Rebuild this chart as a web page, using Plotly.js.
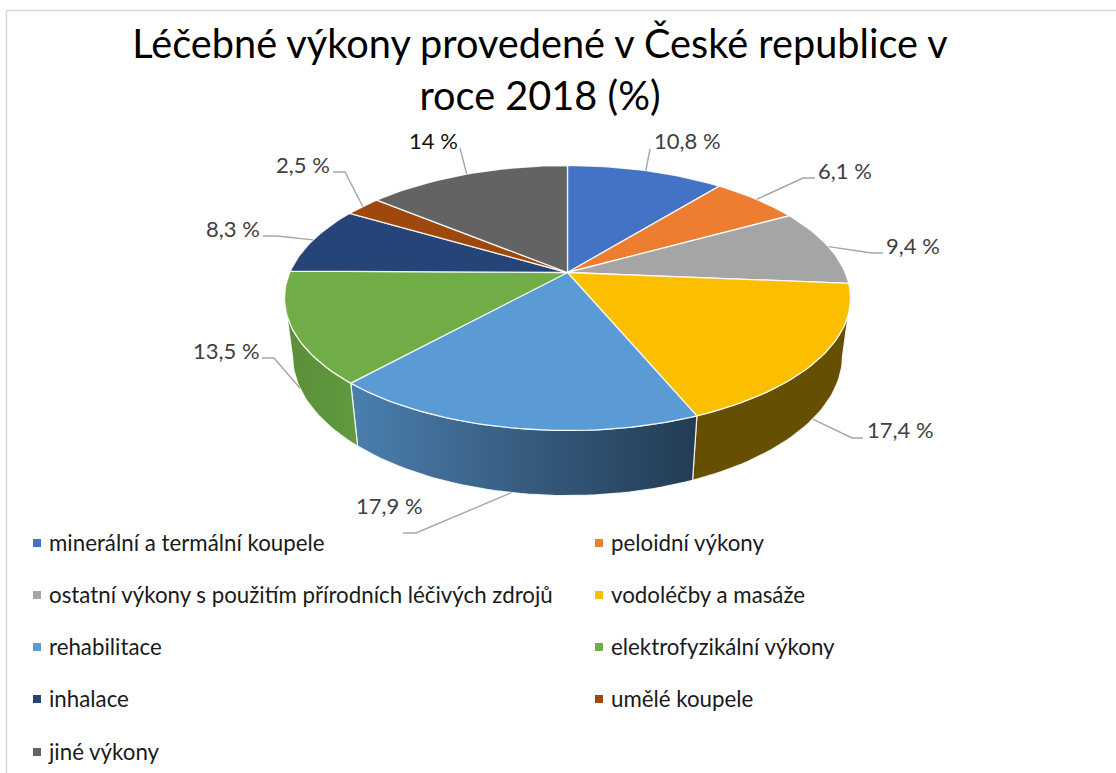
<!DOCTYPE html>
<html><head><meta charset="utf-8">
<script src="https://cdn.plot.ly/plotly-3.0.1.min.js"></script>
<style>html,body{margin:0;padding:0;background:#fff}#c{width:1116px;height:773px}</style>
</head><body><div id="c"></div>
<script>
const categories = ["minerální a termální koupele","peloidní výkony","ostatní výkony s použitím přírodních léčivých zdrojů","vodoléčby a masáže","rehabilitace","elektrofyzikální výkony","inhalace","umělé koupele","jiné výkony"];
const values = [10.8,6.1,9.4,17.4,17.9,13.5,8.3,2.5,14];
const valueLabels = ["10,8 %","6,1 %","9,4 %","17,4 %","17,9 %","13,5 %","8,3 %","2,5 %","14 %"];
const colors = ["#4472C4","#ED7D31","#A5A5A5","#FBBF00","#5B9BD5","#70AD47","#264478","#9E480E","#636363"];
const titleText = "Léčebné výkony provedené v České republice v<br>roce 2018 (%)";

// Label placement (page pixels)
const labelX = [687,845,913,900,389,226,233,303,433];
const labelY = [140,170,245,429,505,350,228,164,140];
const labelColors = ["#404040","#404040","#404040","#404040","#404040","#404040","#404040","#404040","#111111"];
const elbowX = [650,803,872,852,416,274,277,345,460];
const elbowY = [149,178,253,438,533,358,236,172,148];
const endX   = [650,815,883,863,403,262,263,333,460];
const endY   = [149,178,253,438,533,358,236,172,148];

// Legend placement
const legendX = [37,599,37,599,37,599,37,599,37];
const legendY = [543,543,595,595,647,647,699,699,752];
const legendTextX = [49,611,49,611,49,611,49,611,49];
const legendTextY = [545,545,597,597,649,649,701,701,754];

// Projection of the tilted disc
const cx=567.5, cy=272.5, A=277.7, B=127.6, P=0.1924, H=58.8, D=0.028;
const WALL_FROM=101, WALL_TO=259;
const total = values.reduce((a,b)=>a+b,0);
function rim(deg, lower){
  const r=deg*Math.PI/180, u=Math.sin(r), v=Math.cos(r), w=1+P*v;
  return lower ? [cx+A*u/(w+D), cy+(H-B*v)/(w+D)] : [cx+A*u/w, cy-B*v/w];
}
function arc(a,b,lower){
  const n=Math.max(2,Math.ceil(Math.abs(b-a)/1.5)), pts=[];
  for(let i=0;i<=n;i++) pts.push(rim(a+(b-a)*i/n,lower));
  return pts;
}
const bounds=[0]; values.forEach((v,i)=>bounds.push(bounds[i]+v/total*360));

const traces=[];
const wallStyle={
  3:{fillcolor:"#664F00"},
  4:{fillgradient:{type:"horizontal",colorscale:[[0,"#4A7FAE"],[0.5,"#375C80"],[1,"#233C54"]]}},
  5:{fillgradient:{type:"horizontal",colorscale:[[0,"#5B8E39"],[1,"#609A3F"]]}}
};
// side walls
[3,4,5].forEach(i=>{
  const a=Math.max(bounds[i],WALL_FROM), b=Math.min(bounds[i+1],WALL_TO);
  const top=arc(a,b,false), low=arc(a,b,true).reverse(), p=top.concat(low); p.push(top[0]);
  traces.push(Object.assign({type:"scatter",mode:"lines",x:p.map(q=>q[0]),y:p.map(q=>q[1]),fill:"toself",
    line:{color:"rgba(255,255,255,0.85)",width:1.2},hoverinfo:"skip",showlegend:false},wallStyle[i]));
});
// top face slices
values.forEach((v,i)=>{
  const p=[[cx,cy]].concat(arc(bounds[i],bounds[i+1],false)); p.push([cx,cy]);
  traces.push({type:"scatter",mode:"lines",x:p.map(q=>q[0]),y:p.map(q=>q[1]),fill:"toself",fillcolor:colors[i],
    line:{color:"rgba(255,255,255,0.85)",width:1.3},name:categories[i],hoverinfo:"name",showlegend:false});
});
// leader lines
values.forEach((v,i)=>{
  const mid=(bounds[i]+bounds[i+1])/2, lower=mid>WALL_FROM&&mid<WALL_TO, s=rim(mid,lower);
  traces.push({type:"scatter",mode:"lines",x:[s[0],elbowX[i],endX[i]],y:[s[1],elbowY[i],endY[i]],
    line:{color:"#A6A6A6",width:1.4},hoverinfo:"skip",showlegend:false});
});
// legend entries
traces.push({type:"scatter",mode:"markers",x:legendX,y:legendY,
  marker:{symbol:"square",size:8,color:colors},hoverinfo:"skip",showlegend:false,cliponaxis:false});
traces.push({type:"scatter",mode:"text",x:legendTextX,y:legendTextY,text:categories,textposition:"middle right",
  textfont:{family:"Lato, sans-serif",size:22.3,color:"#1a1a1a"},hoverinfo:"skip",showlegend:false,cliponaxis:false});

const annotations=values.map((v,i)=>({xref:"x",yref:"y",x:labelX[i],y:labelY[i],text:valueLabels[i],showarrow:false,
  xanchor:"center",yanchor:"middle",font:{family:"Lato, sans-serif",size:22,color:labelColors[i]}}));

const layout={
  width:1116,height:773,margin:{l:0,r:0,t:0,b:0},paper_bgcolor:"#fff",plot_bgcolor:"#fff",showlegend:false,
  title:{text:titleText,x:540/1116,xanchor:"center",y:1-58/773,yanchor:"middle",font:{family:"Lato, sans-serif",size:39.7,color:"#000"}},
  xaxis:{range:[0,1116],visible:false,fixedrange:true},
  yaxis:{range:[773,0],visible:false,fixedrange:true},
  annotations,
  shapes:[
    {type:"line",xref:"x",yref:"y",x0:6.5,x1:6.5,y0:10.5,y1:773,line:{color:"#D9D9D9",width:1.5},layer:"below"},
    {type:"line",xref:"x",yref:"y",x0:6.5,x1:1116,y0:10.5,y1:10.5,line:{color:"#D9D9D9",width:1.5},layer:"below"}
  ]
};
Plotly.newPlot("c",traces,layout,{displayModeBar:false,staticPlot:false});
</script></body></html>
